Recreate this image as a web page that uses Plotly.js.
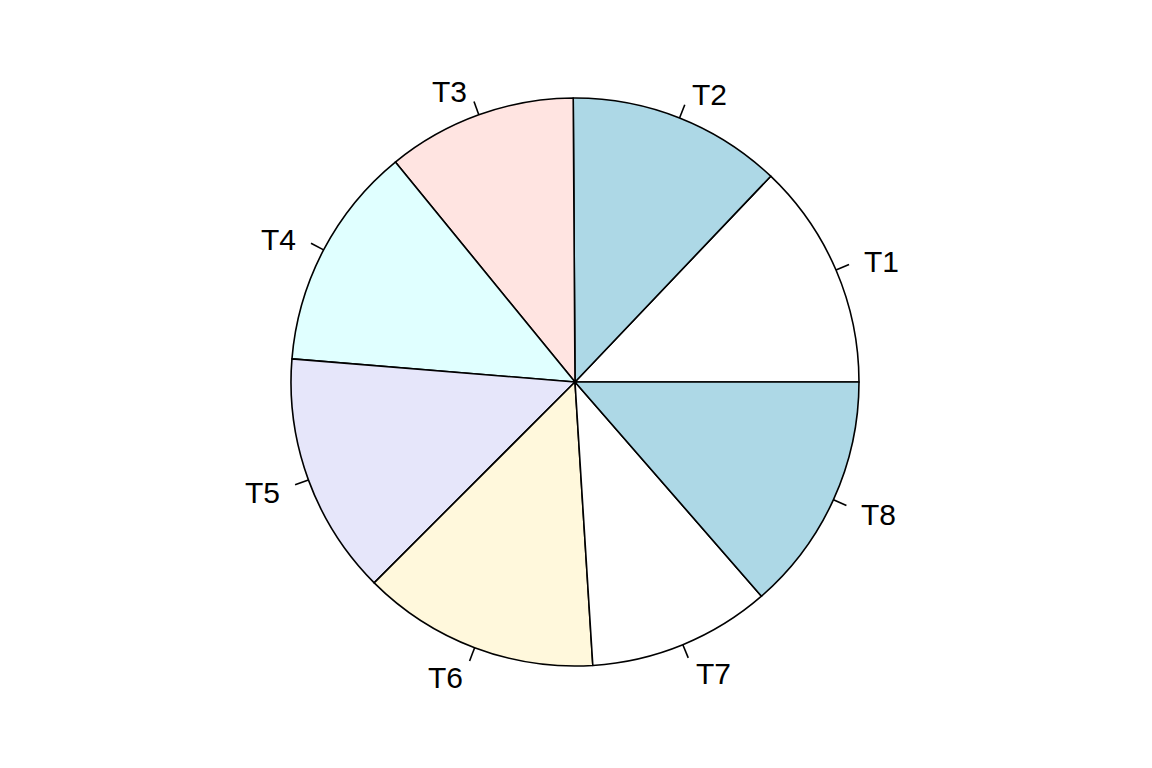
<!DOCTYPE html>
<html>
<head>
<meta charset="utf-8">
<script src="https://cdn.plot.ly/plotly-3.0.1.min.js"></script>
<style>html,body{margin:0;padding:0;background:#fff;}</style>
</head>
<body>
<div id="chart" style="width:1152px;height:768px;"></div>
<script>
const labels = ["T1","T2","T3","T4","T5","T6","T7","T8"];
const values = [12.9, 12.2, 10.8, 12.8, 13.8, 13.5, 10.4, 13.6];
const colors = ["white","lightblue","mistyrose","lightcyan","lavender","cornsilk","white","lightblue"];

const W = 1152, H = 768;
const cx = 575, cy = 382, R = 284;

const total = values.reduce((a,b)=>a+b,0);
const shapes = [];
const annotations = [];
let cum = 0;
values.forEach((v,i)=>{
  const mid = 2*Math.PI*(cum + v/2)/total;
  cum += v;
  const c = Math.cos(mid), s = Math.sin(mid);
  shapes.push({type:'line', xref:'paper', yref:'paper',
    x0:(cx + R*c)/W, y0:1-(cy - R*s)/H,
    x1:(cx + 1.05*R*c)/W, y1:1-(cy - 1.05*R*s)/H,
    line:{color:'black', width:1.6}});
  annotations.push({xref:'paper', yref:'paper',
    x:(cx + 1.1*R*c)/W, y:1-(cy - 1.1*R*s)/H,
    text:labels[i], showarrow:false, yshift:-3,
    xanchor: c < 0 ? 'right' : 'left', yanchor:'middle',
    font:{family:'Liberation Sans, Arial, sans-serif', size:30, color:'black'}});
});

// Plotly's counterclockwise pie ends its first slice at `rotation`; offset so T1 starts at 3 o'clock
const rotation = 90 - 360*values[0]/total;

const trace = {
  type:'pie', labels:labels, values:values, sort:false,
  direction:'counterclockwise', rotation:rotation,
  marker:{colors:colors, line:{color:'black', width:1.6}},
  textinfo:'none', hoverinfo:'label+value', showlegend:false,
  domain:{x:[(cx-R)/W, (cx+R)/W], y:[1-(cy+R)/H, 1-(cy-R)/H]}
};

Plotly.newPlot('chart', [trace], {
  width:W, height:H, margin:{l:0,r:0,t:0,b:0},
  paper_bgcolor:'white', plot_bgcolor:'white',
  shapes:shapes, annotations:annotations
}, {displayModeBar:false, staticPlot:true});
</script>
</body>
</html>
